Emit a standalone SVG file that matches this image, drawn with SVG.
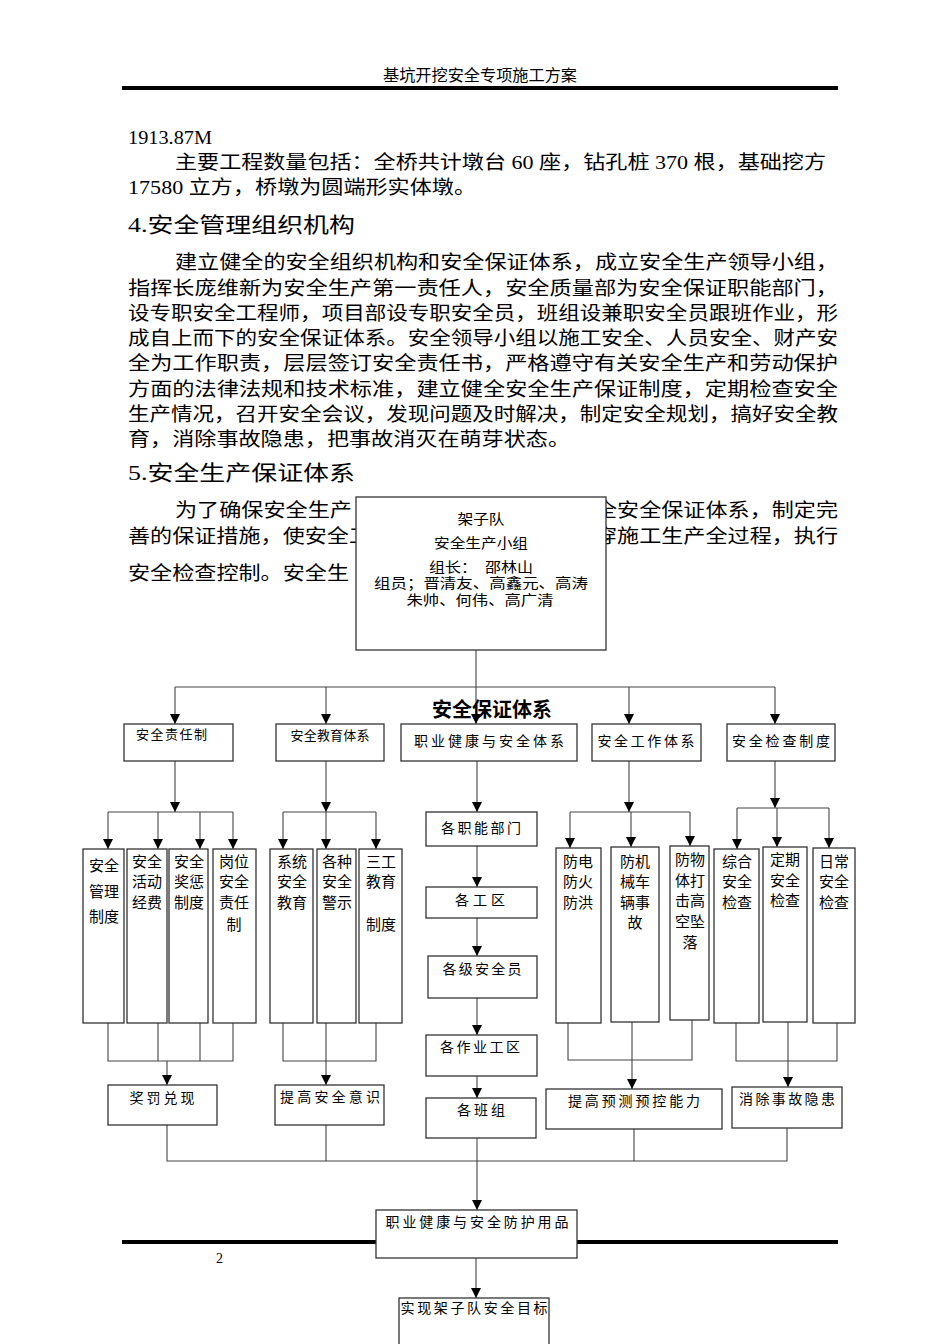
<svg xmlns="http://www.w3.org/2000/svg" width="950" height="1344" viewBox="0 0 950 1344">
<defs>
<marker id="arr" markerUnits="userSpaceOnUse" markerWidth="10" markerHeight="11" refX="10" refY="5" orient="auto" viewBox="0 0 10 10">
<path d="M0,0 L10,5 L0,10 z" fill="#000"/>
</marker>
<style>
.body{font-family:"Liberation Serif","Noto Sans CJK SC",serif;font-size:19px;fill:#000}
.hd{font-family:"Liberation Serif","Noto Sans CJK SC",serif;font-size:21px;fill:#000}
.lbl{font-family:"Liberation Serif","Noto Sans CJK SC",serif;font-size:14px;fill:#000}
.tb{font-family:"Liberation Serif","Noto Sans CJK SC",serif;font-size:14px;fill:#000;text-anchor:middle}
.sm{font-family:"Liberation Serif","Noto Sans CJK SC",serif;font-size:13px;fill:#000}
.v{font-family:"Liberation Serif","Noto Sans CJK SC",serif;font-size:15px;fill:#000;text-anchor:middle}
.box{fill:#fff;stroke:#333;stroke-width:1.3}
.ln{fill:none;stroke:#444;stroke-width:1.1}
.ar{fill:none;stroke:#444;stroke-width:1.1;marker-end:url(#arr)}
.c{text-anchor:middle}
</style>
</defs>
<rect width="950" height="1344" fill="#fff"/>

<g id="page">
<text x="480" y="81" class="lbl c" style="font-size:16px" textLength="194" lengthAdjust="spacingAndGlyphs">基坑开挖安全专项施工方案</text>
<rect x="122" y="86" width="716" height="4" fill="#000"/>
<text x="128" y="144" class="body" textLength="84" lengthAdjust="spacingAndGlyphs">1913.87M</text>
<text x="175" y="169" class="body" textLength="651" lengthAdjust="spacingAndGlyphs">主要工程数量包括：全桥共计墩台 60 座，钻孔桩 370 根，基础挖方</text>
<text x="128" y="194" class="body" textLength="348" lengthAdjust="spacingAndGlyphs">17580 立方，桥墩为圆端形实体墩。</text>
<text x="128" y="232" class="hd" textLength="227" lengthAdjust="spacingAndGlyphs">4.安全管理组织机构</text>
<text x="175" y="269" class="body" textLength="663" lengthAdjust="spacingAndGlyphs">建立健全的安全组织机构和安全保证体系，成立安全生产领导小组，</text>
<text x="128" y="295" class="body" textLength="710" lengthAdjust="spacingAndGlyphs">指挥长庞维新为安全生产第一责任人，安全质量部为安全保证职能部门，</text>
<text x="128" y="320" class="body" textLength="710" lengthAdjust="spacingAndGlyphs">设专职安全工程师，项目部设专职安全员，班组设兼职安全员跟班作业，形</text>
<text x="128" y="345" class="body" textLength="710" lengthAdjust="spacingAndGlyphs">成自上而下的安全保证体系。安全领导小组以施工安全、人员安全、财产安</text>
<text x="128" y="370" class="body" textLength="710" lengthAdjust="spacingAndGlyphs">全为工作职责，层层签订安全责任书，严格遵守有关安全生产和劳动保护</text>
<text x="128" y="396" class="body" textLength="710" lengthAdjust="spacingAndGlyphs">方面的法律法规和技术标准，建立健全安全生产保证制度，定期检查安全</text>
<text x="128" y="421" class="body" textLength="710" lengthAdjust="spacingAndGlyphs">生产情况，召开安全会议，发现问题及时解决，制定安全规划，搞好安全教</text>
<text x="128" y="446" class="body" textLength="442" lengthAdjust="spacingAndGlyphs">育，消除事故隐患，把事故消灭在萌芽状态。</text>
<text x="128" y="480" class="hd" textLength="227" lengthAdjust="spacingAndGlyphs">5.安全生产保证体系</text>
<text x="175" y="517" class="body" textLength="177" lengthAdjust="spacingAndGlyphs">为了确保安全生产</text>
<text x="595" y="517" class="body" textLength="243" lengthAdjust="spacingAndGlyphs">全安全保证体系，制定完</text>
<text x="128" y="543" class="body" textLength="243" lengthAdjust="spacingAndGlyphs">善的保证措施，使安全工</text>
<text x="595" y="543" class="body" textLength="243" lengthAdjust="spacingAndGlyphs">穿施工生产全过程，执行</text>
<text x="128" y="580" class="body" textLength="221" lengthAdjust="spacingAndGlyphs">安全检查控制。安全生</text>
<rect x="122" y="1240" width="716" height="4" fill="#000"/>
<text x="216" y="1263" class="sm" style="font-family:'Liberation Serif',serif;font-size:14px">2</text>
</g>

<g id="connectors">
<path class="ar" d="M476,650 V724"/>
<path class="ln" d="M175,687 H775"/>
<path class="ar" d="M175,687 V724"/>
<path class="ar" d="M326,687 V724"/>
<path class="ar" d="M629,687 V724"/>
<path class="ar" d="M775,687 V724"/>
<path class="ar" d="M175,761 V812"/>
<path class="ln" d="M108,812 H233"/>
<path class="ar" d="M108,812 V849"/>
<path class="ar" d="M158,812 V849"/>
<path class="ar" d="M200,812 V849"/>
<path class="ar" d="M233,812 V849"/>
<path class="ln" d="M108,1023 V1061 H233 V1023 M158,1023 V1061 M200,1023 V1061"/>
<path class="ar" d="M167,1061 V1085"/>
<path class="ar" d="M326,761 V812"/>
<path class="ln" d="M283,812 H376"/>
<path class="ar" d="M283,812 V849"/>
<path class="ar" d="M326,812 V849"/>
<path class="ar" d="M376,812 V849"/>
<path class="ln" d="M283,1023 V1061 H376 V1023 M326,1023 V1061"/>
<path class="ar" d="M326,1061 V1085"/>
<path class="ar" d="M477,761 V812"/>
<path class="ar" d="M477,846 V887"/>
<path class="ar" d="M477,918 V956"/>
<path class="ar" d="M477,998 V1035"/>
<path class="ar" d="M477,1076 V1098"/>
<path class="ar" d="M477,1138 V1210"/>
<path class="ar" d="M476,1258 V1298"/>
<path class="ar" d="M629,761 V812"/>
<path class="ln" d="M570,812 H690"/>
<path class="ar" d="M570,812 V848"/>
<path class="ar" d="M631,812 V847"/>
<path class="ar" d="M690,812 V846"/>
<path class="ln" d="M568,1022 V1060 H692 V1020 M632,1022 V1060"/>
<path class="ar" d="M632,1060 V1089"/>
<path class="ar" d="M775,761 V808"/>
<path class="ln" d="M737,808 H829"/>
<path class="ar" d="M737,808 V849"/>
<path class="ar" d="M777,808 V847"/>
<path class="ar" d="M829,808 V848"/>
<path class="ln" d="M736,1023 V1061 H837 V1023 M788,1022 V1061"/>
<path class="ar" d="M788,1061 V1087"/>
<path class="ln" d="M167,1125 V1161 H787 V1128 M326,1125 V1161 M634,1129 V1161"/>
</g>

<g id="top">
<rect class="box" x="356" y="497" width="250" height="153"/>
<text x="481" y="524" class="tb" textLength="47" lengthAdjust="spacingAndGlyphs">架子队</text>
<text x="481" y="548" class="tb" textLength="94" lengthAdjust="spacingAndGlyphs">安全生产小组</text>
<text x="481" y="572" class="tb" xml:space="preserve" textLength="104" lengthAdjust="spacingAndGlyphs">组长：  邵林山</text>
<text x="481" y="588" class="tb" textLength="214" lengthAdjust="spacingAndGlyphs">组员；晋清友、高鑫元、高涛</text>
<text x="480" y="605" class="tb" textLength="147" lengthAdjust="spacingAndGlyphs">朱帅、何伟、高广清</text>
</g>

<g id="title"><text x="492" y="717" style="font-family:'Noto Sans CJK SC',sans-serif;font-size:20px;font-weight:bold;text-anchor:middle">安全保证体系</text></g>

<g id="n-zrz"><rect class="box" x="124" y="724" width="109" height="37"/><text x="136" y="739" class="sm" textLength="71">安全责任制</text></g>
<g id="n-jyt"><rect class="box" x="276" y="724" width="108" height="37"/><text x="330" y="740" class="sm c" textLength="79">安全教育体系</text></g>
<g id="n-zyjk"><rect class="box" x="401" y="724" width="176" height="37"/><text x="489" y="746" class="lbl c" textLength="150">职业健康与安全体系</text></g>
<g id="n-gzt"><rect class="box" x="592" y="724" width="109" height="37"/><text x="646" y="746" class="lbl c" textLength="97">安全工作体系</text></g>
<g id="n-jcz"><rect class="box" x="727" y="724" width="108" height="37"/><text x="781" y="746" class="lbl c" textLength="98">安全检查制度</text></g>

<g id="n1"><rect class="box" x="83" y="849" width="41" height="174"/><text class="v" x="104" y="871">安全</text><text class="v" x="104" y="897">管理</text><text class="v" x="104" y="922">制度</text></g>
<g id="n2"><rect class="box" x="127" y="849" width="40" height="174"/><text class="v" x="147" y="867">安全</text><text class="v" x="147" y="887">活动</text><text class="v" x="147" y="908">经费</text></g>
<g id="n3"><rect class="box" x="169" y="849" width="39" height="174"/><text class="v" x="189" y="867">安全</text><text class="v" x="189" y="887">奖惩</text><text class="v" x="189" y="908">制度</text></g>
<g id="n4"><rect class="box" x="213" y="849" width="43" height="174"/><text class="v" x="234" y="867">岗位</text><text class="v" x="234" y="887">安全</text><text class="v" x="234" y="908">责任</text><text class="v" x="234" y="930">制</text></g>
<g id="n5"><rect class="box" x="270" y="849" width="43" height="174"/><text class="v" x="292" y="867">系统</text><text class="v" x="292" y="887">安全</text><text class="v" x="292" y="908">教育</text></g>
<g id="n6"><rect class="box" x="317" y="849" width="39" height="174"/><text class="v" x="337" y="867">各种</text><text class="v" x="337" y="887">安全</text><text class="v" x="337" y="908">警示</text></g>
<g id="n7"><rect class="box" x="359" y="849" width="43" height="174"/><text class="v" x="381" y="867">三工</text><text class="v" x="381" y="887">教育</text><text class="v" x="381" y="930">制度</text></g>

<g id="c1"><rect class="box" x="426" y="812" width="111" height="34"/><text x="481" y="833" class="lbl c" textLength="80">各职能部门</text></g>
<g id="c2"><rect class="box" x="426" y="887" width="111" height="31"/><text x="480" y="905" class="lbl c" textLength="50">各工区</text></g>
<g id="c3"><rect class="box" x="428" y="956" width="109" height="42"/><text x="482" y="974" class="lbl c" textLength="79">各级安全员</text></g>
<g id="c4"><rect class="box" x="426" y="1035" width="111" height="41"/><text x="480" y="1052" class="lbl c" textLength="80">各作业工区</text></g>
<g id="c5"><rect class="box" x="426" y="1098" width="110" height="40"/><text x="481" y="1115" class="lbl c" textLength="48">各班组</text></g>

<g id="w1"><rect class="box" x="556" y="848" width="45" height="175"/><text class="v" x="578" y="867">防电</text><text class="v" x="578" y="887">防火</text><text class="v" x="578" y="908">防洪</text></g>
<g id="w2"><rect class="box" x="611" y="847" width="48" height="175"/><text class="v" x="635" y="867">防机</text><text class="v" x="635" y="887">械车</text><text class="v" x="635" y="908">辆事</text><text class="v" x="635" y="928">故</text></g>
<g id="w3"><rect class="box" x="670" y="846" width="39" height="174"/><text class="v" x="690" y="865">防物</text><text class="v" x="690" y="886">体打</text><text class="v" x="690" y="906">击高</text><text class="v" x="690" y="927">空坠</text><text class="v" x="690" y="948">落</text></g>
<g id="k1"><rect class="box" x="714" y="849" width="45" height="174"/><text class="v" x="737" y="867">综合</text><text class="v" x="737" y="887">安全</text><text class="v" x="737" y="908">检查</text></g>
<g id="k2"><rect class="box" x="763" y="847" width="44" height="175"/><text class="v" x="785" y="865">定期</text><text class="v" x="785" y="886">安全</text><text class="v" x="785" y="906">检查</text></g>
<g id="k3"><rect class="box" x="813" y="848" width="42" height="175"/><text class="v" x="834" y="867">日常</text><text class="v" x="834" y="887">安全</text><text class="v" x="834" y="908">检查</text></g>

<g id="b1"><rect class="box" x="108" y="1085" width="109" height="40"/><text x="162" y="1103" class="lbl c" textLength="65">奖罚兑现</text></g>
<g id="b2"><rect class="box" x="275" y="1085" width="109" height="40"/><text x="330" y="1102" class="lbl c" textLength="100">提高安全意识</text></g>
<g id="b3"><rect class="box" x="546" y="1089" width="176" height="40"/><text x="634" y="1106" class="lbl c" textLength="132">提高预测预控能力</text></g>
<g id="b4"><rect class="box" x="732" y="1087" width="110" height="41"/><text x="787" y="1104" class="lbl c" textLength="96">消除事故隐患</text></g>

<g id="f1"><rect class="box" x="376" y="1210" width="201" height="48"/><text x="477" y="1227" class="lbl c" textLength="183">职业健康与安全防护用品</text></g>
<g id="f2"><rect class="box" x="399" y="1298" width="150" height="50"/><text x="474" y="1313" class="lbl c" textLength="147">实现架子队安全目标</text></g>
</svg>
